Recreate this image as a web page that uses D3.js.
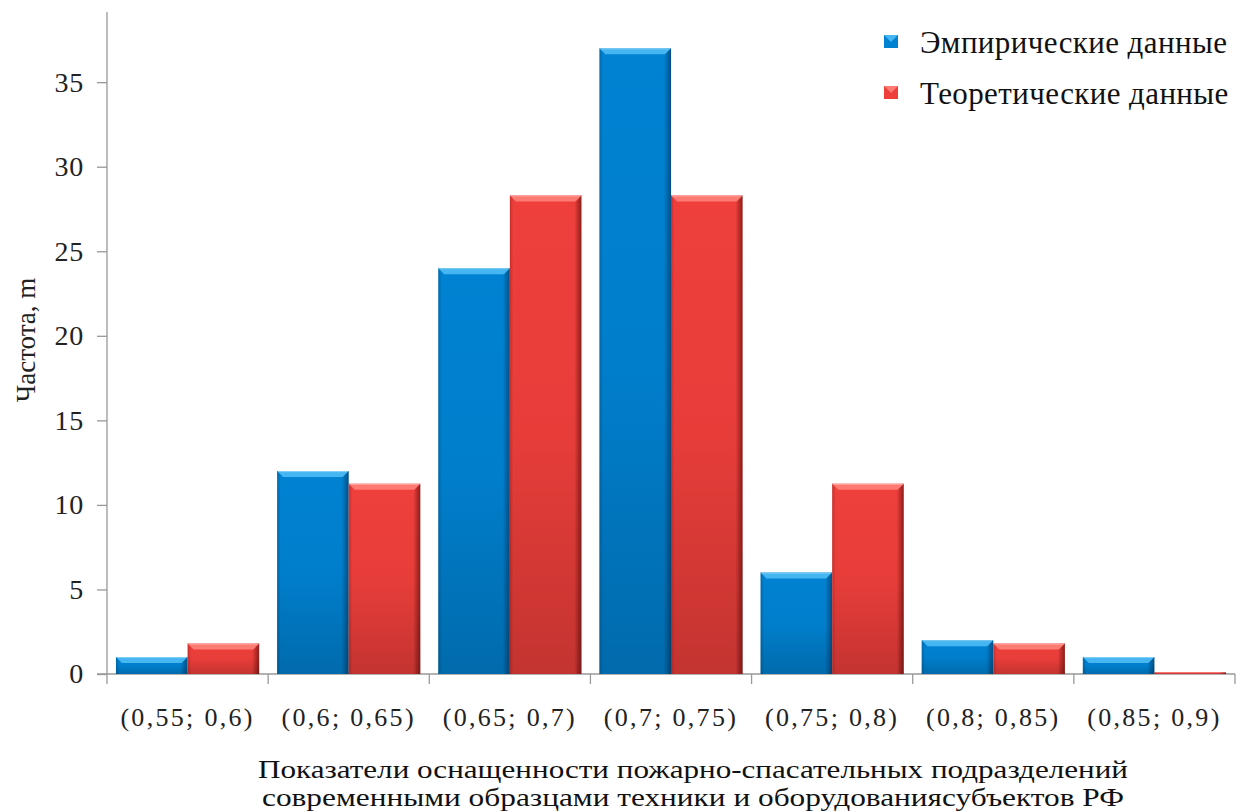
<!DOCTYPE html>
<html><head><meta charset="utf-8">
<script src="https://cdn.jsdelivr.net/npm/d3@7"></script>
<style>body{margin:0;background:#fff}svg{display:block}</style>
</head><body><svg id="c" width="1245" height="812"></svg>
<script>
const categories = ["(0,55; 0,6)","(0,6; 0,65)","(0,65; 0,7)","(0,7; 0,75)","(0,75; 0,8)","(0,8; 0,85)","(0,85; 0,9)"];
const empirical = [1, 12, 24, 37, 6, 2, 1];
const theoretical = [1.8, 11.25, 28.3, 28.3, 11.25, 1.8, 0.1];
const seriesNames = ["Эмпирические данные","Теоретические данные"];
const yTicks = [0,5,10,15,20,25,30,35];

const svg = d3.select("#c");
const F = "'Liberation Serif','Times New Roman',serif";
const x0 = d3.scaleBand().domain(categories).range([107,1235]).paddingInner(0).paddingOuter(0);
const x1 = d3.scaleBand().domain([0,1]).range([0, x0.bandwidth()]).paddingOuter(0.125).paddingInner(0);
const y = d3.scaleLinear().domain([0,39.15]).range([674,12]);

const defs = svg.append("defs");
const cols = [{base:"#0082d2",light:"#45b6f2",dark:"#004f85",bot:"#0069ad"},{base:"#ee3f3b",light:"#ff7a72",dark:"#8e1d1a",bot:"#c9302d"}];
cols.forEach((c,i)=>{
  const gh = defs.append("linearGradient").attr("id","h"+i).attr("x1",0).attr("x2",1).attr("y1",0).attr("y2",0);
  gh.append("stop").attr("offset",0).attr("stop-color",c.bot);
  gh.append("stop").attr("offset",0.05).attr("stop-color",c.base);
  gh.append("stop").attr("offset",0.9).attr("stop-color",c.base);
  gh.append("stop").attr("offset",1).attr("stop-color",c.dark);
  const gv = defs.append("linearGradient").attr("id","v"+i).attr("x1",0).attr("x2",0).attr("y1",0).attr("y2",1);
  gv.append("stop").attr("offset",0).attr("stop-color","#000").attr("stop-opacity",0);
  gv.append("stop").attr("offset",0.5).attr("stop-color","#000").attr("stop-opacity",0.03);
  gv.append("stop").attr("offset",1).attr("stop-color","#000").attr("stop-opacity",0.18);
});

// axes
const yAxis = d3.axisLeft(y).tickValues(yTicks).tickSize(10).tickPadding(13);
const gy = svg.append("g").attr("transform","translate(107,0)").call(yAxis);
gy.select(".domain").attr("d","M0,12V674").attr("stroke","#999").attr("stroke-width",1.3);
gy.selectAll(".tick line").attr("stroke","#999").attr("stroke-width",1.3);
gy.selectAll(".tick text").attr("font-family",F).attr("font-size",28).attr("letter-spacing",0.8).attr("fill","#222");

const xAxis = d3.axisBottom(x0).tickSize(0).tickPadding(30);
const gx = svg.append("g").attr("transform","translate(0,674)").call(xAxis);
gx.select(".domain").attr("d","M97,0H1235").attr("stroke","#999").attr("stroke-width",1.3);
gx.selectAll(".tick text").attr("font-family",F).attr("font-size",26).attr("letter-spacing",2.3).attr("fill","#222").attr("dy","0.35em").attr("y",43);
gx.selectAll(".tick line").remove();
const bounds = categories.map(c=>x0(c)).concat([x0.range()[1]]);
gx.selectAll(".sep").data(bounds).join("line").attr("class","sep")
  .attr("x1",d=>d).attr("x2",d=>d).attr("y1",0).attr("y2",10).attr("stroke","#999").attr("stroke-width",1.3);

// bars
const data = [];
categories.forEach((c,ci)=>{
  [empirical[ci],theoretical[ci]].forEach((v,si)=>data.push({c,si,v}));
});
const bars = svg.append("g").selectAll("g").data(data).join("g")
  .attr("transform",d=>`translate(${x0(d.c)+x1(d.si)},0)`);
const bw = x1.bandwidth();
bars.append("rect").attr("x",0).attr("y",d=>y(d.v)).attr("width",bw).attr("height",d=>y(0)-y(d.v))
  .attr("fill",d=>`url(#h${d.si})`);
bars.append("rect").attr("x",0).attr("y",d=>y(d.v)).attr("width",bw).attr("height",d=>y(0)-y(d.v))
  .attr("fill",d=>`url(#v${d.si})`);
// top bevel
bars.filter(d=>y(0)-y(d.v)>4).append("path")
  .attr("d",d=>{const t=y(d.v), h=Math.min(6,(y(0)-t)/2);return `M0,${t}H${bw}L${bw-6},${t+h}H6Z`;})
  .attr("fill",d=>cols[d.si].light);
bars.filter(d=>y(0)-y(d.v)>4).append("line")
  .attr("x1",1).attr("x2",bw-1).attr("y1",d=>y(d.v)+0.5).attr("y2",d=>y(d.v)+0.5)
  .attr("stroke","#fff").attr("stroke-opacity",0.35);

// legend
const lg = svg.append("g");
seriesNames.forEach((n,i)=>{
  const yy = 42 + i*51;
  lg.append("rect").attr("x",884).attr("y",yy-7).attr("width",14).attr("height",13).attr("fill",cols[i].base);
  lg.append("path").attr("d",`M884,${yy-7}H898L891,${yy}Z`).attr("fill",cols[i].light);
  lg.append("text").attr("x",920).attr("y",yy).attr("dy","0.35em").attr("font-family",F).attr("font-size",31).attr("letter-spacing",0.4).attr("fill","#111").text(n);
});

// axis titles
svg.append("text").attr("transform","translate(26,340) rotate(-90)").attr("text-anchor","middle").attr("dy","0.35em")
  .attr("font-family",F).attr("font-size",27).attr("fill","#222").text("Частота, m");
svg.append("text").attr("x",693).attr("y",769).attr("text-anchor","middle").attr("dy","0.35em")
  .attr("font-family",F).attr("font-size",25).attr("fill","#111").attr("textLength",870).attr("lengthAdjust","spacingAndGlyphs")
  .text("Показатели оснащенности пожарно-спасательных подразделений");
svg.append("text").attr("x",693).attr("y",797).attr("text-anchor","middle").attr("dy","0.35em")
  .attr("font-family",F).attr("font-size",25).attr("fill","#111").attr("textLength",862).attr("lengthAdjust","spacingAndGlyphs")
  .text("современными образцами техники и оборудованиясубъектов РФ");
</script></body></html>
